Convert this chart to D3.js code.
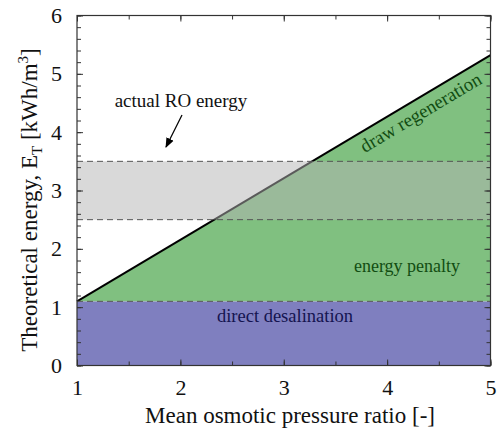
<!DOCTYPE html>
<html>
<head>
<meta charset="utf-8">
<script src="https://cdn.jsdelivr.net/npm/d3@7.9.0/dist/d3.min.js"></script>
<style>
  body { margin: 0; background: #fff; }
</style>
</head>
<body>
<svg id="chart" width="500" height="436"></svg>
<script>
// data
const xDomain = [1, 5];
const yDomain = [0, 6];
const xTicks = [1, 2, 3, 4, 5];
const yTicks = [0, 1, 2, 3, 4, 5, 6];
const directEnergy = 1.1;          // direct desalination level
const roBand = [2.5, 3.5];         // actual RO energy band
const totalLine = [[1, 1.1], [5, 5.32]];  // theoretical energy with draw regeneration

const serif = 'Liberation Serif';
const width = 500, height = 436;
const margin = { top: 15.5, right: 9.5, bottom: 70.5, left: 77 };

const svg = d3.select('#chart').attr('font-family', serif);

const x = d3.scaleLinear().domain(xDomain).range([margin.left, width - margin.right]);
const y = d3.scaleLinear().domain(yDomain).range([height - margin.bottom, margin.top]);

// purple: direct desalination
svg.append('rect')
  .attr('x', x(1)).attr('y', y(directEnergy))
  .attr('width', x(5) - x(1)).attr('height', y(0) - y(directEnergy))
  .attr('fill', '#7f7fbf');

// green: energy penalty + draw regeneration
const area = d3.area()
  .x((d) => x(d[0]))
  .y0(y(directEnergy))
  .y1((d) => y(d[1]));

svg.append('path')
  .datum(totalLine)
  .attr('d', area)
  .attr('fill', '#80c080');

svg.append('path')
  .datum(totalLine)
  .attr('d', d3.line().x((d) => x(d[0])).y((d) => y(d[1])))
  .attr('fill', 'none')
  .attr('stroke', '#000')
  .attr('stroke-width', 2);

// gray band: actual RO energy
svg.append('rect')
  .attr('x', x(1)).attr('y', y(roBand[1]))
  .attr('width', x(5) - x(1)).attr('height', y(roBand[0]) - y(roBand[1]))
  .attr('fill', '#b4b4b4')
  .attr('fill-opacity', 0.5);

// dashed levels
svg.append('g')
  .selectAll('line')
  .data([directEnergy, roBand[0], roBand[1]])
  .join('line')
  .attr('x1', x(1)).attr('x2', x(5))
  .attr('y1', (d) => y(d)).attr('y2', (d) => y(d))
  .attr('stroke', '#555')
  .attr('stroke-width', 1)
  .attr('stroke-dasharray', '6,4');

// axes with inward ticks on all four sides
const xMinor = d3.range(1, 5.01, 0.5);
const yMinor = d3.range(0, 6.01, 0.2);

function styleAxis(g) {
  g.attr('font-family', serif).attr('font-size', 22);
  g.select('.domain').remove();
  g.selectAll('line').attr('stroke', '#333');
  g.selectAll('text').attr('fill', '#111');
}

svg.append('g')
  .attr('transform', `translate(0,${y(0)})`)
  .call(d3.axisBottom(x).tickValues(xMinor).tickSize(-4).tickFormat(''))
  .call(styleAxis);
svg.append('g')
  .attr('transform', `translate(0,${y(0)})`)
  .call(d3.axisBottom(x).tickValues(xTicks).tickSize(-6).tickPadding(14).tickFormat(d3.format('d')))
  .call(styleAxis);
svg.append('g')
  .attr('transform', `translate(0,${y(6)})`)
  .call(d3.axisTop(x).tickValues(xMinor).tickSize(-4).tickFormat(''))
  .call(styleAxis);
svg.append('g')
  .attr('transform', `translate(0,${y(6)})`)
  .call(d3.axisTop(x).tickValues(xTicks).tickSize(-6).tickFormat(''))
  .call(styleAxis);

svg.append('g')
  .attr('transform', `translate(${x(1)},0)`)
  .call(d3.axisLeft(y).tickValues(yMinor).tickSize(-4).tickFormat(''))
  .call(styleAxis);
svg.append('g')
  .attr('transform', `translate(${x(1)},0)`)
  .call(d3.axisLeft(y).tickValues(yTicks).tickSize(-6).tickPadding(15).tickFormat(d3.format('d')))
  .call(styleAxis);
svg.append('g')
  .attr('transform', `translate(${x(5)},0)`)
  .call(d3.axisRight(y).tickValues(yMinor).tickSize(-4).tickFormat(''))
  .call(styleAxis);
svg.append('g')
  .attr('transform', `translate(${x(5)},0)`)
  .call(d3.axisRight(y).tickValues(yTicks).tickSize(-6).tickFormat(''))
  .call(styleAxis);

// frame
svg.append('rect')
  .attr('x', x(1)).attr('y', y(6))
  .attr('width', x(5) - x(1)).attr('height', y(0) - y(6))
  .attr('fill', 'none')
  .attr('stroke', '#333')
  .attr('stroke-width', 1.2);

// axis titles
svg.append('text')
  .attr('x', 290).attr('y', 423)
  .attr('text-anchor', 'middle')
  .attr('font-size', 23)
  .attr('fill', '#111')
  .text('Mean osmotic pressure ratio [-]');

const yTitle = svg.append('text')
  .attr('transform', 'translate(37,200) rotate(-90)')
  .attr('text-anchor', 'middle')
  .attr('font-size', 23)
  .attr('fill', '#111');
yTitle.append('tspan').text('Theoretical energy, E');
yTitle.append('tspan').attr('font-size', 15).attr('dy', 5).text('T');
yTitle.append('tspan').attr('dy', -5).text(' [kWh/m');
yTitle.append('tspan').attr('font-size', 15).attr('dy', -9).text('3');
yTitle.append('tspan').attr('dy', 9).text(']');

// annotations
svg.append('text')
  .attr('x', 181).attr('y', 107)
  .attr('text-anchor', 'middle')
  .attr('font-size', 19)
  .attr('fill', '#111')
  .text('actual RO energy');

svg.append('defs').append('marker')
  .attr('id', 'head')
  .attr('viewBox', '0 0 10 10')
  .attr('refX', 9).attr('refY', 5)
  .attr('markerWidth', 10).attr('markerHeight', 10)
  .attr('markerUnits', 'userSpaceOnUse')
  .attr('orient', 'auto')
  .append('path')
  .attr('d', 'M0,1 L10,5 L0,9 Z')
  .attr('fill', '#000');

svg.append('line')
  .attr('x1', 182).attr('y1', 115)
  .attr('x2', 166).attr('y2', 147)
  .attr('stroke', '#000')
  .attr('stroke-width', 1.3)
  .attr('marker-end', 'url(#head)');

const angle = Math.atan2(y(totalLine[1][1]) - y(totalLine[0][1]), x(totalLine[1][0]) - x(totalLine[0][0])) * 180 / Math.PI;
svg.append('text')
  .attr('transform', `translate(424,118) rotate(${angle})`)
  .attr('text-anchor', 'middle')
  .attr('font-size', 19)
  .attr('fill', '#124d12')
  .text('draw regeneration');

svg.append('text')
  .attr('x', 407).attr('y', 272)
  .attr('text-anchor', 'middle')
  .attr('font-size', 18)
  .attr('fill', '#124d12')
  .text('energy penalty');

svg.append('text')
  .attr('x', 285).attr('y', 322)
  .attr('text-anchor', 'middle')
  .attr('font-size', 18.5)
  .attr('fill', '#141450')
  .text('direct desalination');
</script>
</body>
</html>
